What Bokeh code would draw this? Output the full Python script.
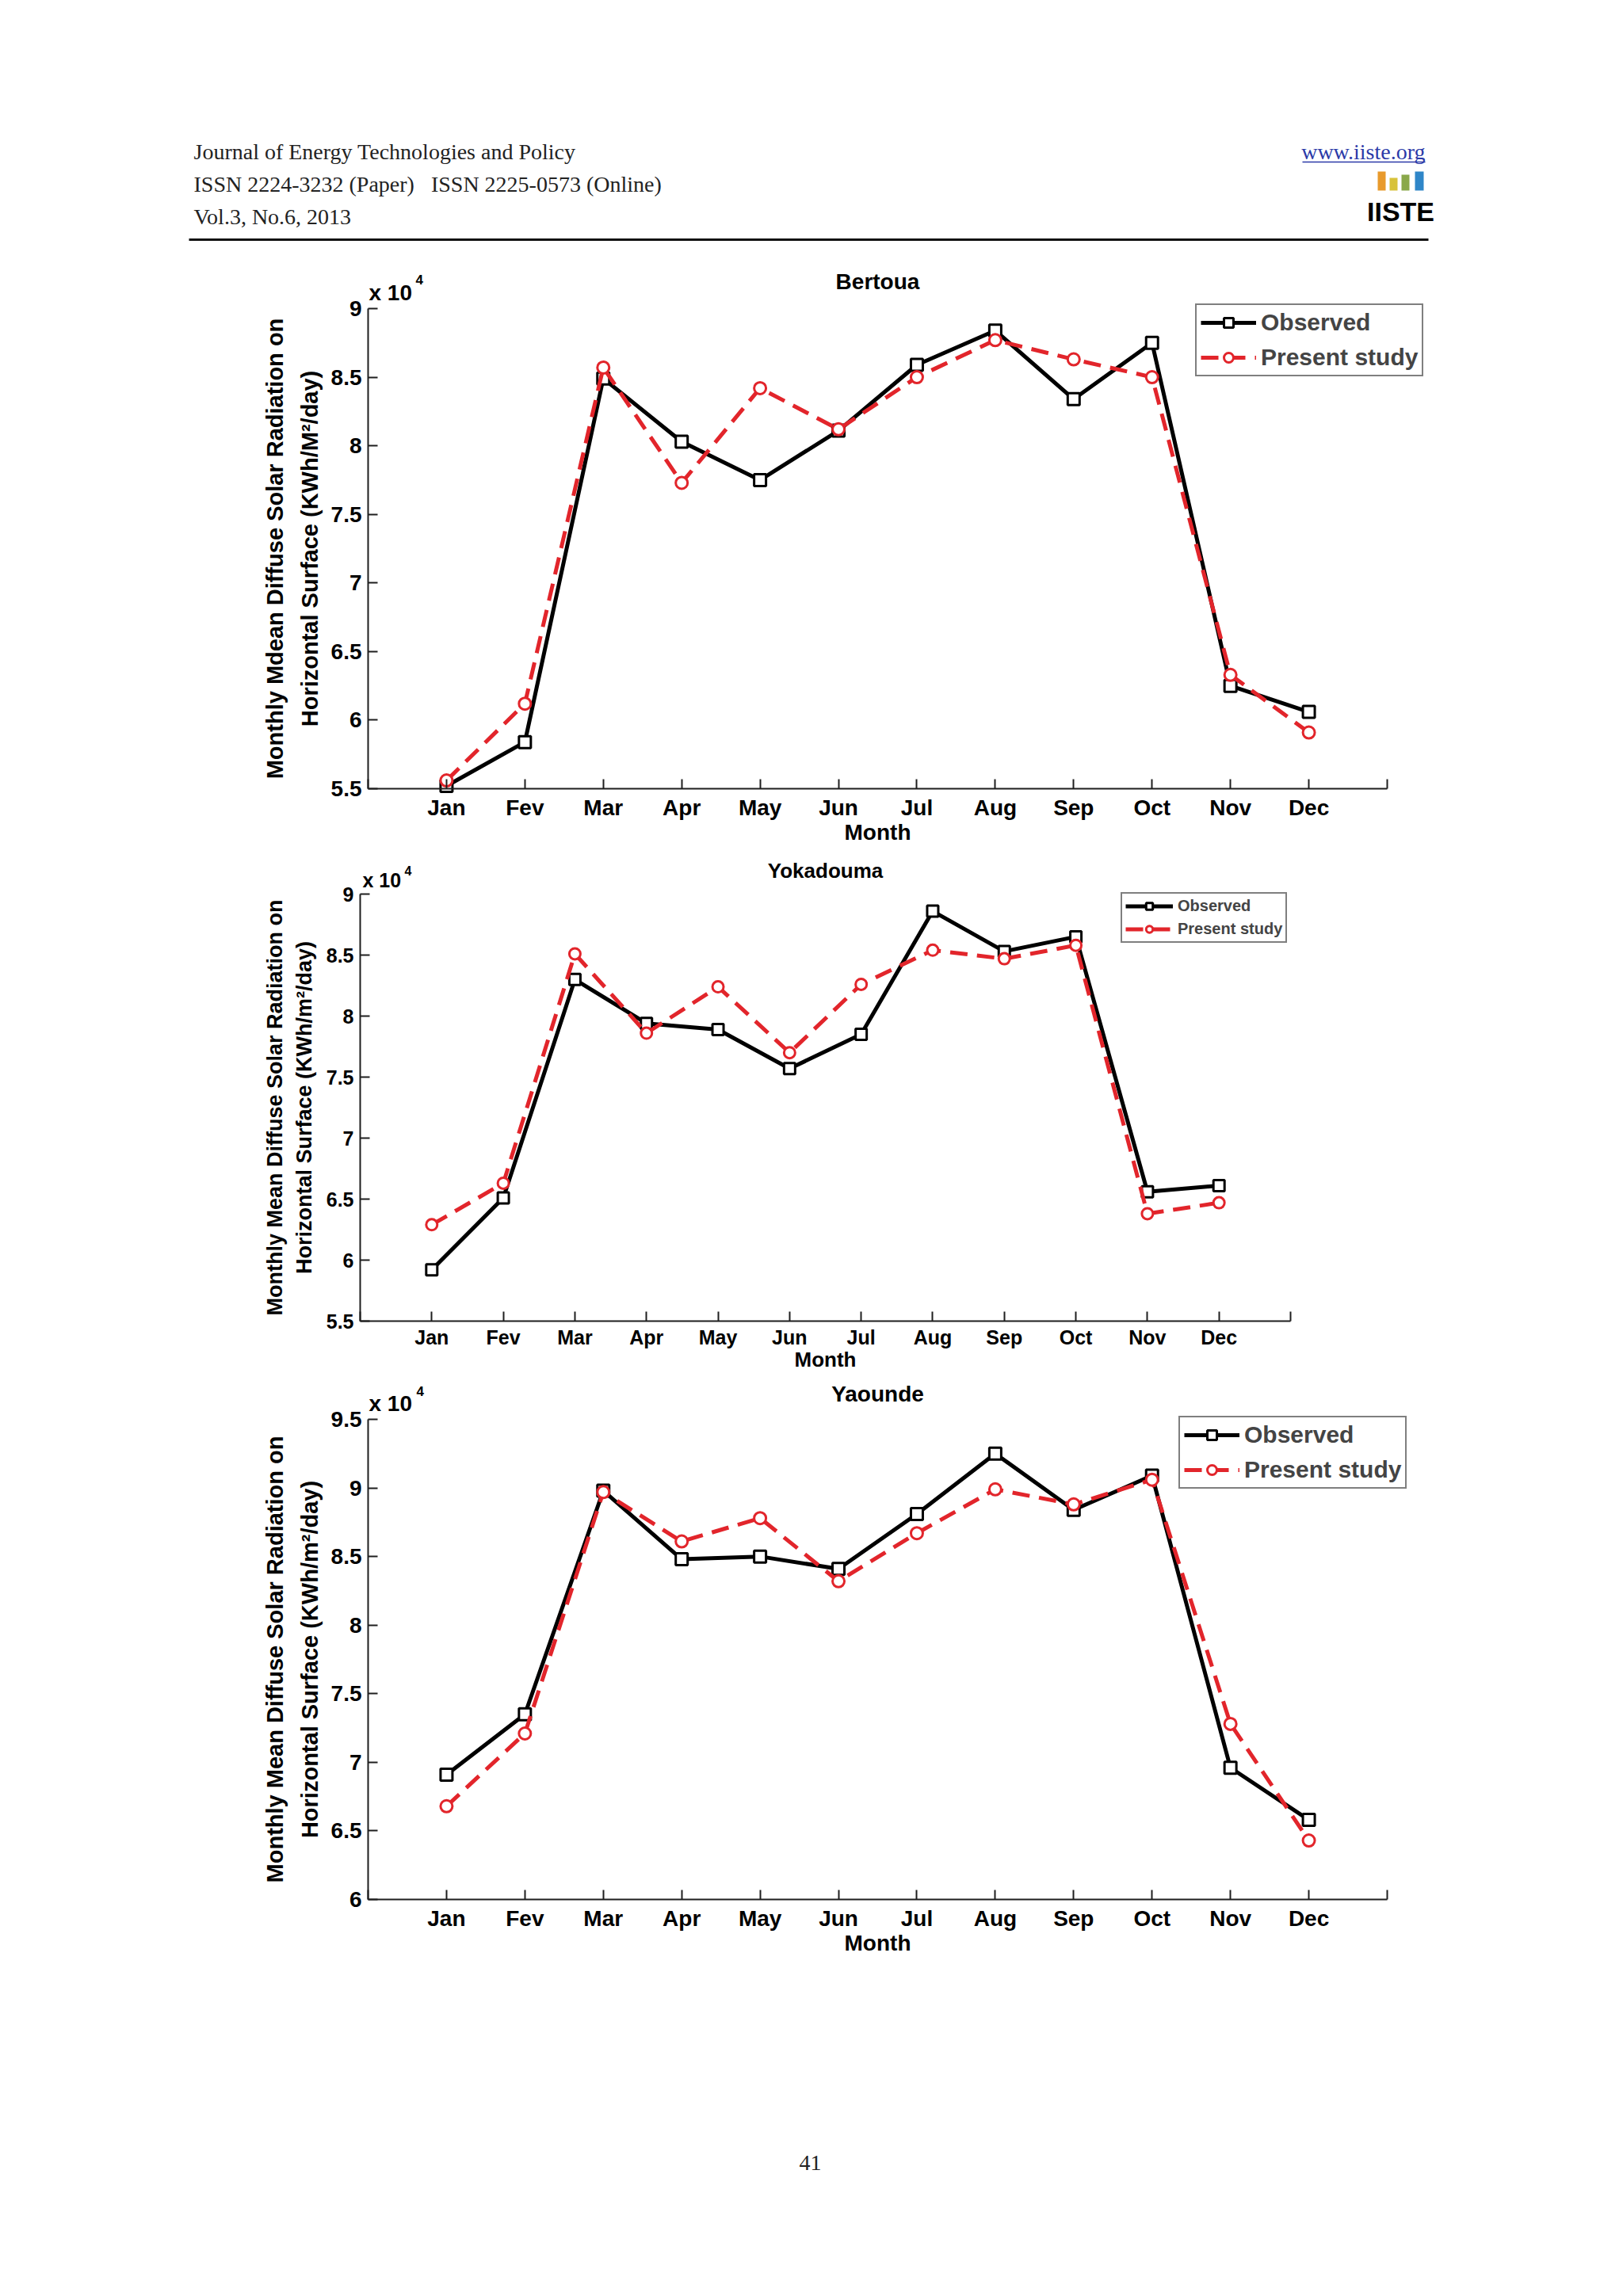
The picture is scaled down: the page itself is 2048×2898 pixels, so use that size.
import math
from bokeh.plotting import figure
from bokeh.models import (Range1d, FixedTicker, Label, Legend, LegendItem,
                          CustomJSTickFormatter)
from bokeh.layouts import column
from bokeh.embed import file_html
from bokeh.resources import INLINE
from bokeh.core.properties import value

# ---------------- data (values in units of 10^4) ----------------
months = ["Jan", "Fev", "Mar", "Apr", "May", "Jun", "Jul", "Aug", "Sep", "Oct", "Nov", "Dec"]
month_index = list(range(1, 13))

bertoua_observed = [5.52, 5.84, 8.49, 8.03, 7.75, 8.11, 8.59, 8.84, 8.34, 8.75, 6.25, 6.06]
bertoua_present = [5.56, 6.12, 8.57, 7.73, 8.42, 8.12, 8.50, 8.77, 8.63, 8.50, 6.33, 5.91]

yokadouma_observed = [5.92, 6.51, 8.30, 7.94, 7.89, 7.57, 7.85, 8.86, 8.53, 8.65, 6.56, 6.61]
yokadouma_present = [6.29, 6.63, 8.51, 7.86, 8.24, 7.70, 8.26, 8.54, 8.47, 8.58, 6.38, 6.47]

yaounde_observed = [6.91, 7.35, 8.98, 8.48, 8.50, 8.41, 8.81, 9.25, 8.84, 9.09, 6.96, 6.58]
yaounde_present = [6.68, 7.21, 8.97, 8.61, 8.78, 8.32, 8.67, 8.99, 8.88, 9.06, 7.28, 6.43]

yticks_a = [5.5, 6.0, 6.5, 7.0, 7.5, 8.0, 8.5, 9.0]
yticks_b = [6.0, 6.5, 7.0, 7.5, 8.0, 8.5, 9.0, 9.5]

series_labels = ["Observed", "Present study"]

SANS = "Liberation Sans"
SERIF = "Liberation Serif"
RED = "#e2252b"
AXIS = "#1e1e1e"
PAGE_W = 2040
NB = "\u00a0"


def blank_page_figure(top, h):
    p = figure(width=PAGE_W, height=h, x_range=Range1d(0, PAGE_W),
               y_range=Range1d(top + h, top), x_axis_type=None, y_axis_type=None,
               output_backend="svg", toolbar_location=None, min_border=0)
    p.outline_line_color = None
    p.grid.visible = False
    return p


def header_figure():
    p = blank_page_figure(0, 320)
    p.text(x=[244, 244, 244], y=[191, 232, 273],
           text=["Journal of Energy Technologies and Policy",
                 "ISSN 2224-3232 (Paper)" + NB * 3 + "ISSN 2225-0573 (Online)",
                 "Vol.3, No.6, 2013"],
           text_font=value(SERIF), text_font_size=value("28px"),
           text_baseline="middle", text_align="left", text_color="#222222")
    p.text(x=[1798], y=[191], text=["www.iiste.org"], text_font=value(SERIF),
           text_font_size=value("28px"), text_baseline="middle", text_align="right",
           text_color="#2b3aa8")
    p.segment(x0=[1643], y0=[204], x1=[1798], y1=[204], line_color="#2b3aa8", line_width=1.5)
    # logo
    p.quad(left=[1738, 1753, 1768, 1785], right=[1748, 1763, 1778, 1796],
           top=[216, 224, 220, 216], bottom=[240, 240, 240, 240],
           fill_color=["#e89a2c", "#d8c23a", "#8aa84a", "#2f86c8"], line_color=None)
    p.text(x=[1767], y=[266], text=["IISTE"], text_font=value(SANS),
           text_font_style="bold", text_font_size=value("34px"),
           text_baseline="middle", text_align="center", text_color="black")
    p.segment(x0=[238], y0=[302], x1=[1802], y1=[302], line_color="#111111", line_width=3)
    return p


def footer_figure():
    p = blank_page_figure(2480, 410)
    p.text(x=[1022], y=[2729], text=["41"], text_font=value(SERIF),
           text_font_size=value("28px"), text_baseline="middle", text_align="center",
           text_color="#222222")
    return p


def make_chart(title, ylabel_lines, obs, pres, ymin, ymax, yticks, g):
    L, R, T, B = g["left"], g["right"], g["top"], g["bottom"]
    top, H = g["fig_top"], g["height"]
    sx = (R - L) / 13.0
    sy = (B - T) / (ymax - ymin)
    xr = Range1d(-L / sx, 13 + (PAGE_W - R) / sx)
    yr = Range1d(ymin - (top + H - B) / sy, ymax + (T - top) / sy)
    p = figure(width=PAGE_W, height=H, x_range=xr, y_range=yr,
               output_backend="svg", toolbar_location=None, min_border=0)
    p.outline_line_color = None
    p.grid.visible = False

    fs = g["fs"]
    xa = p.xaxis[0]
    ya = p.yaxis[0]
    xa.fixed_location = ymin
    ya.fixed_location = 0
    xa.bounds = (0, 13)
    ya.bounds = (ymin, ymax)
    xa.ticker = FixedTicker(ticks=list(range(0, 14)))
    overrides = {0: "", 13: ""}
    for i, m in zip(month_index, months):
        overrides[i] = m
    xa.major_label_overrides = overrides
    ya.ticker = FixedTicker(ticks=yticks)
    ya.formatter = CustomJSTickFormatter(
        code="return Math.abs(tick - Math.round(tick)) < 1e-9 ? tick.toFixed(0) : tick.toFixed(1);")
    for ax in (xa, ya):
        ax.major_tick_in = 12
        ax.major_tick_out = 0
        ax.minor_tick_line_color = None
        ax.axis_line_width = 2
        ax.axis_line_color = AXIS
        ax.major_tick_line_width = 2
        ax.major_tick_line_color = AXIS
        ax.major_label_text_font = SANS
        ax.major_label_text_font_style = "bold"
        ax.major_label_text_font_size = f"{fs}px"
        ax.major_label_text_color = "black"
    xa.major_label_standoff = g["xstand"]
    ya.major_label_standoff = 8

    lw = g["lw"]
    ms = g["ms"]
    l1 = p.line(month_index, obs, line_color="black", line_width=lw)
    s1 = p.scatter(month_index, obs, marker="square", size=ms, line_color="black",
                   line_width=3, fill_color="white")
    l2 = p.line(month_index, pres, line_color=RED, line_width=lw, line_dash="22 12")
    s2 = p.scatter(month_index, pres, marker="circle", size=ms, line_color=RED,
                   line_width=3, fill_color="white")

    leg = Legend(items=[LegendItem(label=series_labels[0], renderers=[l1, s1]),
                        LegendItem(label=series_labels[1], renderers=[l2, s2])],
                 location=(g["leg_x"], top + H - g["leg_bottom"]))
    leg.border_line_color = "black"
    leg.border_line_width = 2
    leg.background_fill_color = "white"
    leg.background_fill_alpha = 1
    leg.label_text_font = SANS
    leg.label_text_font_style = "bold"
    leg.label_text_font_size = f"{g['leg_fs']}px"
    leg.glyph_width = g["leg_gw"]
    leg.glyph_height = g["leg_h"]
    leg.label_height = g["leg_h"]
    leg.label_standoff = 6
    leg.padding = g["leg_pad"]
    leg.spacing = g["leg_sp"]
    leg.margin = 0
    p.add_layout(leg)

    xmid = 6.5
    ymid = (ymin + ymax) / 2
    p.add_layout(Label(x=xmid, y=ymax, y_offset=g["title_dy"], text=title,
                       text_align="center", text_baseline="middle", text_font=SANS,
                       text_font_style="bold", text_font_size=f"{g['title_fs']}px",
                       text_color="black"))
    p.add_layout(Label(x=xmid, y=ymin, y_offset=-g["month_dy"], text="Month",
                       text_align="center", text_baseline="middle", text_font=SANS,
                       text_font_style="bold", text_font_size=f"{g['title_fs']}px",
                       text_color="black"))
    p.add_layout(Label(x=0, y=ymax, x_offset=g["x10_dx"], y_offset=g["x10_dy"], text="x 10",
                       text_align="left", text_baseline="alphabetic", text_font=SANS,
                       text_font_style="bold", text_font_size=f"{fs}px", text_color="black"))
    p.add_layout(Label(x=0, y=ymax, x_offset=g["sup_dx"], y_offset=g["sup_dy"], text="4",
                       text_align="left", text_baseline="middle", text_font=SANS,
                       text_font_style="bold", text_font_size=f"{g['sup_fs']}px",
                       text_color="black"))
    for line_text, dx in zip(ylabel_lines, g["ylab_dx"]):
        p.add_layout(Label(x=0, y=ymid, x_offset=dx, angle=math.pi / 2, text=line_text,
                           text_align="center", text_baseline="middle", text_font=SANS,
                           text_font_style="bold", text_font_size=f"{g['ylab_fs']}px",
                           text_color="black"))
    return p


geom1 = dict(fig_top=320, height=755, left=464, right=1750, top=389, bottom=995,
             fs=28, title_fs=28, ylab_fs=29, leg_fs=30, sup_fs=17, xstand=8,
             lw=5, ms=15, leg_x=1508, leg_bottom=475, leg_gw=70, leg_h=30, leg_pad=5,
             leg_sp=10, title_dy=34, month_dy=55, x10_dx=1, x10_dy=20, sup_dx=60, sup_dy=37,
             ylab_dx=[-118, -74])
geom2 = dict(fig_top=1075, height=665, left=454, right=1628, top=1128, bottom=1667,
             fs=25, title_fs=26, ylab_fs=27, leg_fs=20, sup_fs=16, xstand=6,
             lw=5, ms=14, leg_x=1414, leg_bottom=1190, leg_gw=60, leg_h=21, leg_pad=4,
             leg_sp=6, title_dy=30, month_dy=48, x10_dx=3, x10_dy=18, sup_dx=56, sup_dy=30,
             ylab_dx=[-108, -71])
geom3 = dict(fig_top=1740, height=740, left=464, right=1750, top=1791, bottom=2397,
             fs=28, title_fs=28, ylab_fs=29, leg_fs=30, sup_fs=17, xstand=8,
             lw=5, ms=15, leg_x=1487, leg_bottom=1879, leg_gw=70, leg_h=30, leg_pad=5,
             leg_sp=10, title_dy=32, month_dy=55, x10_dx=1, x10_dy=20, sup_dx=61, sup_dy=36,
             ylab_dx=[-118, -74])

p1 = make_chart("Bertoua",
                ["Monthly Mdean Diffuse Solar Radiation on", "Horizontal Surface (KWh/M\u00b2/day)"],
                bertoua_observed, bertoua_present, 5.5, 9.0, yticks_a, geom1)
p2 = make_chart("Yokadouma",
                ["Monthly Mean Diffuse Solar Radiation on", "Horizontal Surface (KWh/m\u00b2/day)"],
                yokadouma_observed, yokadouma_present, 5.5, 9.0, yticks_a, geom2)
p3 = make_chart("Yaounde",
                ["Monthly Mean Diffuse Solar Radiation on", "Horizontal Surface (KWh/m\u00b2/day)"],
                yaounde_observed, yaounde_present, 6.0, 9.5, yticks_b, geom3)

page = column(header_figure(), p1, p2, p3, footer_figure(), spacing=0)

open("out.html", "w").write(file_html(page, INLINE))
